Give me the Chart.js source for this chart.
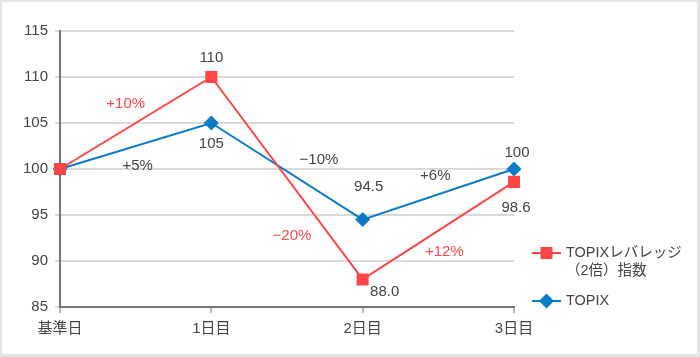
<!DOCTYPE html>
<html>
<head>
<meta charset="utf-8">
<script src="https://cdn.jsdelivr.net/npm/chart.js@4/dist/chart.umd.min.js"></script>
<style>
html,body{margin:0;padding:0;background:#fff;}
#wrap{width:700px;height:357px;position:relative;}
</style>
</head>
<body>
<div id="wrap"><canvas id="c" width="700" height="357"></canvas></div>
<script>
// ---- data ----
const categories = ['基準日', '1日目', '2日目', '3日目'];
const leveragedName = ['TOPIXレバレッジ', '（2倍）指数'];
const topixName = 'TOPIX';
const leveragedValues = [100, 110, 88.0, 98.6];
const topixValues = [100, 105, 94.5, 100];
const leveragedValueLabels = ['', '110', '88.0', '98.6'];
const topixValueLabels = ['', '105', '94.5', '100'];
const leveragedChangeLabels = ['+10%', '−20%', '+12%'];
const topixChangeLabels = ['+5%', '−10%', '+6%'];
const yTicks = [85, 90, 95, 100, 105, 110, 115];

const RED = '#FF4646';
const BLUE = '#0A7BC7';
const TEXT = '#444444';
const FONT = '"Liberation Sans", "Noto Sans CJK JP", sans-serif';

const annot = {
  id: 'annot',
  beforeDraw(chart) {
    const ctx = chart.ctx;
    ctx.save();
    ctx.fillStyle = '#e4e4e4';
    ctx.fillRect(0, 0, chart.width, chart.height);
    ctx.fillStyle = '#ffffff';
    ctx.fillRect(2, 2, chart.width - 5, chart.height - 5);
    ctx.restore();
  },
  afterDatasetsDraw(chart, args, opts) {
    const ctx = chart.ctx;
    ctx.save();
    ctx.font = '15px ' + FONT;
    ctx.textAlign = 'center';
    ctx.textBaseline = 'middle';
    const sets = [
      {meta: chart.getDatasetMeta(0), vals: leveragedValueLabels, chg: leveragedChangeLabels, vOff: opts.redValueOffsets, cOff: opts.redChangeOffsets, cColor: RED},
      {meta: chart.getDatasetMeta(1), vals: topixValueLabels, chg: topixChangeLabels, vOff: opts.blueValueOffsets, cOff: opts.blueChangeOffsets, cColor: TEXT}
    ];
    sets.forEach(s => {
      const pts = s.meta.data;
      s.vals.forEach((t, i) => {
        if (!t) return;
        ctx.fillStyle = TEXT;
        ctx.fillText(t, pts[i].x + s.vOff[i][0], pts[i].y + s.vOff[i][1]);
      });
      s.chg.forEach((t, i) => {
        const mx = (pts[i].x + pts[i + 1].x) / 2;
        const my = (pts[i].y + pts[i + 1].y) / 2;
        ctx.fillStyle = s.cColor;
        ctx.fillText(t, mx + s.cOff[i][0], my + s.cOff[i][1]);
      });
    });
    // legend
    const lg = opts.legend;
    ctx.textAlign = 'left';
    const drawItem = (y, color, style, lines) => {
      ctx.strokeStyle = color;
      ctx.lineWidth = 2;
      ctx.beginPath();
      ctx.moveTo(lg.x, y);
      ctx.lineTo(lg.x + lg.lineLen, y);
      ctx.stroke();
      ctx.fillStyle = color;
      const cx = lg.x + lg.lineLen / 2;
      if (style === 'rect') {
        ctx.fillRect(cx - 6, y - 6, 12, 12);
      } else {
        ctx.beginPath();
        ctx.moveTo(cx, y - 7.5);
        ctx.lineTo(cx + 7.5, y);
        ctx.lineTo(cx, y + 7.5);
        ctx.lineTo(cx - 7.5, y);
        ctx.closePath();
        ctx.fill();
      }
      ctx.fillStyle = TEXT;
      ctx.font = '14.5px ' + FONT;
      lines.forEach((l, k) => ctx.fillText(l, lg.x + lg.lineLen + 5, y + k * 18));
    };
    drawItem(lg.y1, RED, 'rect', leveragedName);
    drawItem(lg.y2, BLUE, 'diamond', [topixName]);
    ctx.restore();
  }
};

new Chart(document.getElementById('c'), {
  type: 'line',
  data: {
    labels: categories,
    datasets: [
      {
        label: leveragedName.join(''),
        data: leveragedValues,
        borderColor: RED,
        backgroundColor: RED,
        borderWidth: 2,
        pointStyle: 'rect',
        pointRadius: 8.5,
        pointBorderWidth: 0,
        tension: 0
      },
      {
        label: topixName,
        data: topixValues,
        borderColor: BLUE,
        backgroundColor: BLUE,
        borderWidth: 2,
        pointStyle: 'rectRot',
        pointRadius: 7.5,
        pointBorderWidth: 0,
        tension: 0
      }
    ]
  },
  options: {
    responsive: false,
    animation: false,
    layout: {padding: {left: 0, top: 31, right: 186, bottom: 0}},
    plugins: {
      legend: {display: false},
      tooltip: {enabled: false},
      annot: {
        redValueOffsets: [[0, 0], [0, -19], [22, 12], [2, 26]],
        blueValueOffsets: [[0, 0], [0, 21], [6, -33], [3, -16]],
        redChangeOffsets: [[-10, -19], [5, 58], [6, 21]],
        blueChangeOffsets: [[2, 20], [32, -11], [-3, -18]],
        legend: {x: 532, lineLen: 29, y1: 253, y2: 301}
      }
    },
    scales: {
      x: {
        offset: false,
        grid: {drawOnChartArea: false, drawTicks: true, tickLength: 6, color: '#b5b5b5', lineWidth: 2},
        border: {display: true, color: '#777777', width: 2},
        ticks: {color: TEXT, font: {size: 15, family: FONT}, padding: 7, maxRotation: 0},
        afterFit(s) { s.height = 50; }
      },
      y: {
        min: 85,
        max: 115,
        afterBuildTicks(s) { s.ticks = yTicks.map(v => ({value: v})); },
        grid: {color: '#d9d9d9', lineWidth: 2, drawTicks: true, tickLength: 5},
        border: {display: true, color: '#777777', width: 2},
        ticks: {color: TEXT, font: {size: 15, family: FONT}, padding: 7},
        afterFit(s) { s.width = 60; }
      }
    }
  },
  plugins: [annot]
});
</script>
</body>
</html>
